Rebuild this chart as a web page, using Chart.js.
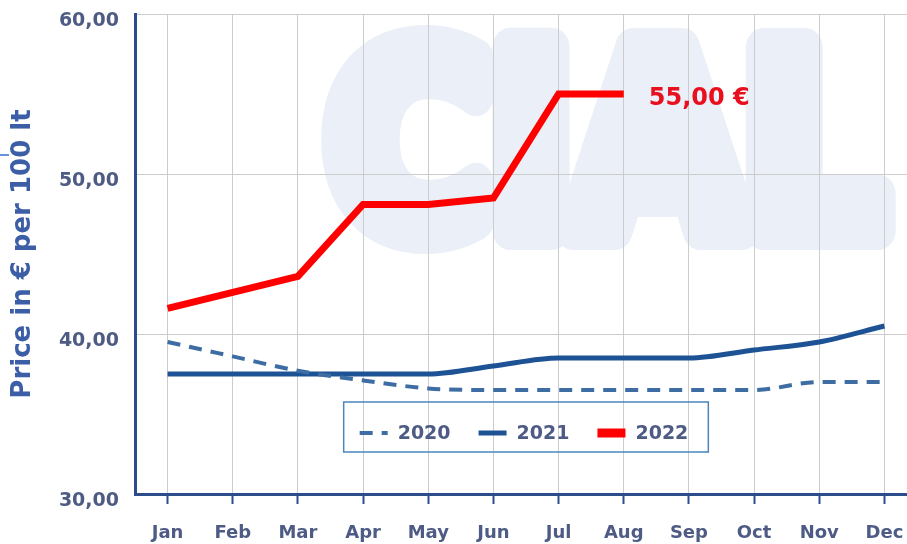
<!DOCTYPE html>
<html>
<head>
<meta charset="utf-8">
<title>Price per 100 lt</title>
<script src="https://cdn.jsdelivr.net/npm/chart.js@4.4.0/dist/chart.umd.min.js"></script>
<style>
    body { margin: 0; background: #fff; overflow: hidden; }
    #wrap { position: relative; width: 920px; height: 544px; }
</style>
</head>
<body>
<div id="wrap"><canvas id="priceChart"></canvas></div>
<script>
const months = ["Jan", "Feb", "Mar", "Apr", "May", "Jun", "Jul", "Aug", "Sep", "Oct", "Nov", "Dec"]
const yearLabels = ["2020", "2021", "2022"]
const prices2020 = [39.5, 38.6, 37.7, 37.1, 36.6, 36.5, 36.5, 36.5, 36.5, 36.5, 37.0, 37.0]
const prices2021 = [37.5, 37.5, 37.5, 37.5, 37.5, 38.0, 38.5, 38.5, 38.5, 39.0, 39.5, 40.5]
const prices2022 = [41.6, 42.6, 43.6, 48.1, 48.1, 48.5, 55.0, 55.0]
const yTicks = [30, 40, 50, 60]

const AXIS_BLUE = "#2c4c8c"
const TEXT_BLUE = "#4d5b85"
const FONT = "'DejaVu Sans', Verdana, sans-serif"

const fmt = v => v.toFixed(2).replace(".", ",")

// Big pale logo behind the grid, fattened with a round stroke
const watermark = {
    id: "watermark",
    beforeDraw(chart) {
        const ctx = chart.ctx
        ctx.save()
        ctx.fillStyle = "#ebeff7"
        ctx.strokeStyle = "#ebeff7"
        ctx.lineWidth = 40
        ctx.lineJoin = "round"
        ctx.font = "bold 249px " + FONT
        ctx.textBaseline = "alphabetic"
        ctx.strokeText("CIAL", 328, 230, 556)
        ctx.fillText("CIAL", 328, 230, 556)
        ctx.restore()
    }
}

// Legend box inside the plot area, under the lines
const boxLegend = {
    id: "boxLegend",
    afterDatasetsDraw(chart) {
        const ctx = chart.ctx
        const area = chart.chartArea
        const sampleW = 28, gap = 10, itemGap = 28
        ctx.save()
        ctx.font = "bold 19px " + FONT
        const items = chart.data.datasets.map(ds => ({ ds, w: ctx.measureText(ds.label).width }))
        const total = items.reduce((s, it) => s + sampleW + gap + it.w, 0) + itemGap * (items.length - 1)
        const boxW = total + 36, boxH = 50
        const cx = (area.left + area.right) / 2
        const bx = cx - boxW / 2, by = 402
        ctx.strokeStyle = "#4a86bb"
        ctx.lineWidth = 1.5
        ctx.strokeRect(bx, by, boxW, boxH)
        let x = bx + 16
        const y = by + boxH / 2 + 6
        items.forEach(it => {
            ctx.beginPath()
            ctx.strokeStyle = it.ds.borderColor
            ctx.lineWidth = it.ds.borderWidth + (it.ds.label === "2022" ? 2 : 0)
            ctx.setLineDash(it.ds.borderDash || [])
            ctx.moveTo(x, y)
            ctx.lineTo(x + sampleW, y)
            ctx.stroke()
            ctx.setLineDash([])
            ctx.fillStyle = TEXT_BLUE
            ctx.textBaseline = "middle"
            ctx.fillText(it.ds.label, x + sampleW + gap, y + 1)
            x += sampleW + gap + it.w + itemGap
        })
        ctx.restore()
    }
}

// Value tag next to the latest 2022 point, plus the little mark on the left edge
const lastValue = {
    id: "lastValue",
    afterDraw(chart) {
        const ctx = chart.ctx
        const meta = chart.getDatasetMeta(2)
        const last = prices2022.length - 1
        const pt = meta.data[last]
        ctx.save()
        ctx.fillStyle = "#e8101e"
        ctx.font = "bold 24px " + FONT
        ctx.textBaseline = "middle"
        ctx.fillText(fmt(prices2022[last]) + " €", pt.x + 25, pt.y + 5)
        ctx.strokeStyle = "#3a6fd0"
        ctx.lineWidth = 1.5
        ctx.beginPath()
        ctx.moveTo(0, 155)
        ctx.lineTo(9, 155)
        ctx.stroke()
        ctx.restore()
    }
}

new Chart(document.getElementById("priceChart"), {
    type: "line",
    data: {
        labels: months,
        datasets: [{
            label: yearLabels[0],
            data: prices2020,
            borderColor: "#3d6da3",
            borderWidth: 4,
            borderDash: [13, 9],
            cubicInterpolationMode: "monotone",
            pointRadius: 0
        }, {
            label: yearLabels[1],
            data: prices2021,
            borderColor: "#1d5294",
            borderWidth: 5,
            cubicInterpolationMode: "monotone",
            pointRadius: 0
        }, {
            label: yearLabels[2],
            data: prices2022,
            borderColor: "#ff0000",
            borderWidth: 7,
            tension: 0,
            pointRadius: 0
        }]
    },
    options: {
        responsive: true,
        maintainAspectRatio: false,
        animation: false,
        layout: { padding: { top: 14, left: 0, right: 3, bottom: 0 } },
        plugins: {
            legend: { display: false },
            tooltip: { enabled: false }
        },
        scales: {
            x: {
                offset: true,
                afterFit: s => {
                    s.height = 50
                    s.paddingLeft = 0
                    s.paddingRight = 0
                },
                grid: {
                    offset: false,
                    color: "#cccccc",
                    tickColor: AXIS_BLUE,
                    tickLength: 10,
                    tickWidth: 2
                },
                border: { color: AXIS_BLUE, width: 3 },
                ticks: {
                    color: TEXT_BLUE,
                    font: { family: FONT, size: 18, weight: "bold" },
                    padding: 19,
                    maxRotation: 0,
                    autoSkip: false
                }
            },
            y: {
                min: yTicks[0],
                max: yTicks[yTicks.length - 1],
                afterFit: s => {
                    s.width = 135
                    s.paddingTop = 0
                    s.paddingBottom = 0
                },
                afterBuildTicks: s => { s.ticks = yTicks.map(v => ({ value: v })) },
                grid: { color: "#cccccc", drawTicks: false },
                border: { color: AXIS_BLUE, width: 3 },
                ticks: {
                    color: TEXT_BLUE,
                    font: { family: FONT, size: 19, weight: "bold" },
                    padding: 16,
                    labelOffset: 7,
                    callback: v => fmt(v)
                },
                title: {
                    display: true,
                    text: "Price in € per 100 lt",
                    color: "#3c5ea6",
                    font: { family: FONT, size: 26, weight: "bold" },
                    padding: { top: 8, bottom: 4 }
                }
            }
        }
    },
    plugins: [watermark, boxLegend, lastValue]
})
</script>
</body>
</html>
